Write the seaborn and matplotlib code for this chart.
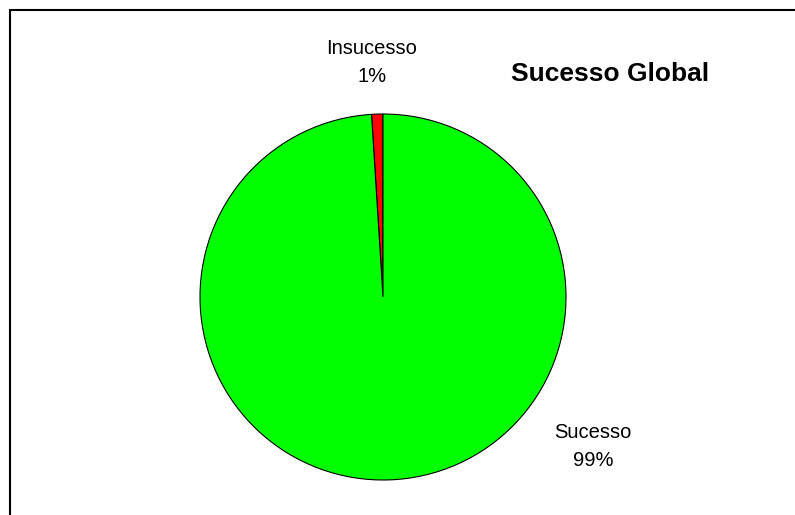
import seaborn as sns
import matplotlib.pyplot as plt
from matplotlib.patches import Rectangle

# data
categories = ["Insucesso", "Sucesso"]
values = [1, 99]
colors = ["#FF0000", "#00FF00"]
title = "Sucesso Global"

sns.set_theme(style="white")
plt.rcParams["font.family"] = ["Liberation Sans", "DejaVu Sans"]

W, H = 795, 515
fig = plt.figure(figsize=(W / 100, H / 100), dpi=100)
ax = fig.add_axes([0, 0, 1, 1])

# chart frame (runs off the right / bottom edges like the original)
ax.add_patch(Rectangle((9.5, -20), W + 20, H - 9.5 + 20, fill=False,
                       edgecolor="black", linewidth=1.5))

cx, cy, r = 383, H - 297, 183
ax.pie(values, colors=colors, startangle=90, center=(cx, cy), radius=r,
       wedgeprops=dict(edgecolor="black", linewidth=0.8), frame=True)
ax.set_xlim(0, W)
ax.set_ylim(0, H)
ax.set_aspect("equal")
ax.axis("off")

total = sum(values)
label_pos = [(372, H - 63), (593, H - 446)]
for cat, v, (lx, ly) in zip(categories, values, label_pos):
    ax.text(lx, ly, f"{cat}\n{v / total:.0%}", ha="center", va="center",
            fontsize=14.5, linespacing=1.6, color="black")

ax.text(610, H - 74, title, ha="center", va="center", fontsize=19,
        fontweight="bold", color="black")

fig.savefig("out.png", dpi=100)
